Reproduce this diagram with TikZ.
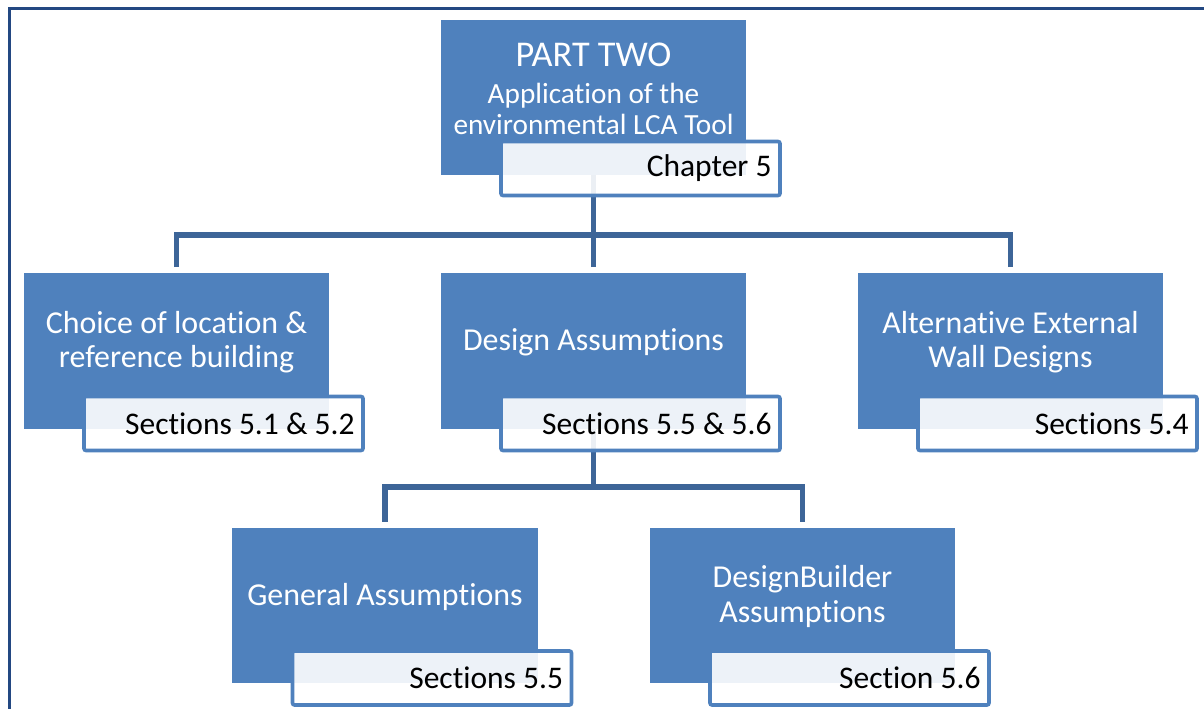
\documentclass[tikz,border=0pt]{standalone}
\usepackage{fontspec}
\setmainfont{Carlito}[Ligatures=NoCommon]
\usetikzlibrary{backgrounds}

\definecolor{boxblue}{HTML}{4F81BD}
\definecolor{linkblue}{HTML}{3D6598}
\definecolor{frameblue}{RGB}{35,72,130}

\tikzstyle{bluebox}=[rectangle, fill=boxblue, minimum width=7.625cm, minimum height=3.875cm, inner sep=0]
\tikzstyle{bluetext}=[text=white, align=center, inner sep=0, font=\fontsize{22.7}{24.4}\selectfont]
\tikzstyle{seclabel}=[rectangle, draw=boxblue, line width=2.6pt, rounded corners=1.5pt, fill=white, fill opacity=.9, text opacity=1, minimum height=1.35cm, inner xsep=6pt, text width=186.4pt, align=flush right, font=\fontsize{22.4}{24}\selectfont]
\tikzstyle{link}=[draw=linkblue, line width=3.6pt]
\tikzstyle{frameline}=[draw=frameblue, line width=2.1pt]

% blue box, its text and its section label
\newcommand{\chapbox}[5]{
  \node[bluebox] (#1) at (#2,#3) {};
  \node[bluetext] (#1txt) at (#2,#3-9) {#4};
  \node[seclabel] (#1lab) at (#2+47,#3+72.5) {#5};
}

\begin{document}
\begin{tikzpicture}[x=0.025cm, y=-0.025cm]
  \useasboundingbox (0,0) rectangle (1204,709);
  \draw[frameline] (9.5,730) -- (9.5,8.5) -- (1230,8.5);

  \node[bluebox] (part) at (593.5,97.5) {};
  \node[bluetext, font=\fontsize{20.8}{22.2}\selectfont] (parttxt) at (593.5,89)
    {{\fontsize{25.8}{28}\selectfont PART TWO}\\[4pt] Application of the\\ environmental LCA Tool};
  \node[seclabel] (partlab) at (640.5,168.5) {Chapter 5};

  \chapbox{loc}{176.5}{351}{Choice of location \&\\ reference building}{Sections 5.1 \& 5.2}
  \chapbox{design}{593.5}{351}{Design Assumptions}{Sections 5.5 \& 5.6}
  \chapbox{walls}{1010.5}{351}{Alternative External\\ Wall Designs}{Sections 5.4}
  \chapbox{general}{385}{605.5}{General Assumptions}{Sections 5.5}
  \chapbox{builder}{802.5}{605.5}{DesignBuilder\\ Assumptions}{Section 5.6}

  \coordinate (bus1) at (593.5,235);
  \coordinate (bus2) at (593.5,487);
  \begin{scope}[on background layer]
    \draw[link] (part.south) -- (bus1);
    \draw[link, shorten <=4.3pt] (design.north) -- (bus1);
    \draw[link, shorten <=4.3pt] (loc.north) |- (bus1);
    \draw[link, shorten <=4.3pt] (walls.north) |- (bus1);
    \draw[link] (design.south) -- (bus2);
    \draw[link, shorten <=4.3pt] (general.north) |- (bus2);
    \draw[link, shorten <=4.3pt] (builder.north) |- (bus2);
  \end{scope}
\end{tikzpicture}
\end{document}
